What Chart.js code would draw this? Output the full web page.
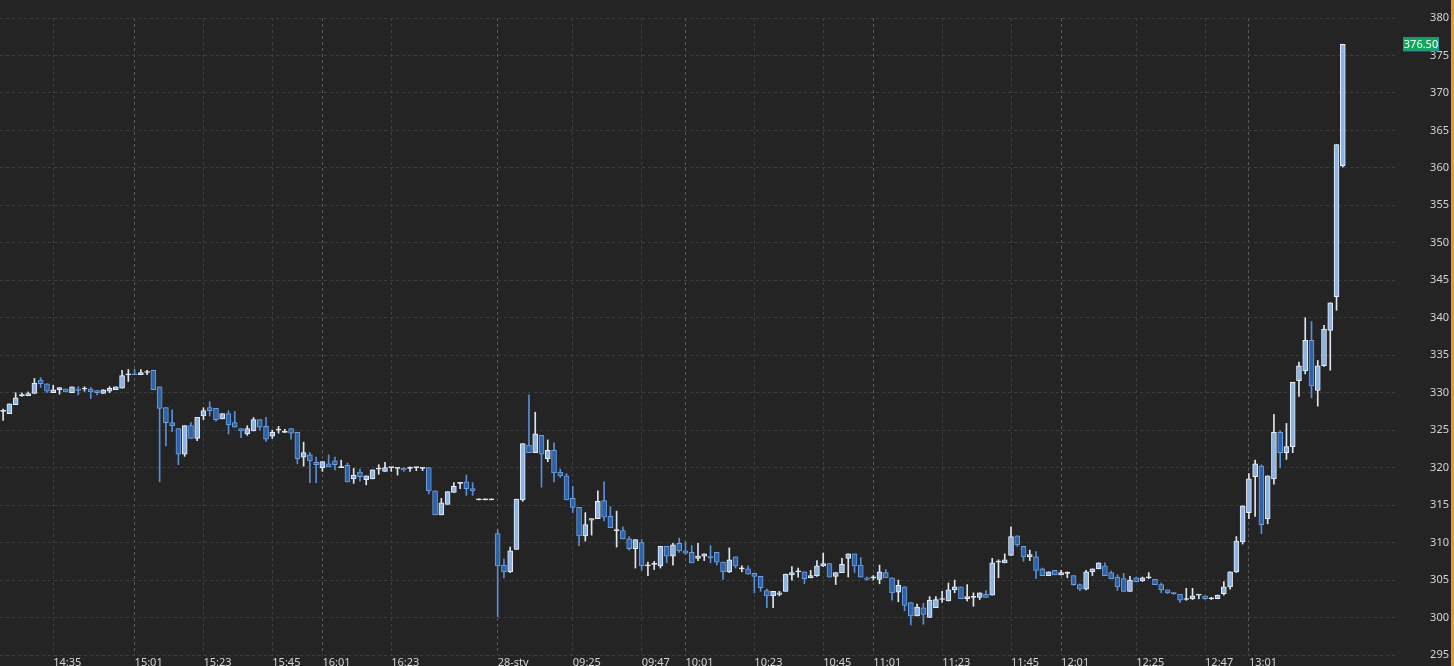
<!DOCTYPE html>
<html>
<head>
<meta charset="utf-8">
<script src="https://cdn.jsdelivr.net/npm/chart.js@4"></script>
<style>
  html, body { margin: 0; background: #242424; overflow: hidden; }
  #wrap { width: 1454px; height: 666px; position: relative; }
</style>
</head>
<body>
<div id="wrap"><canvas id="chart"></canvas></div>
<script>
// 2-minute candles
const open = [
  327.5,327.2,328.4,329.6,329.6,329.9,331.7,331.2,330.0,330.4,330.5,330.0,330.5,330.5,330.5,330.3,329.9,330.2,330.4,330.6,
  332.4,332.5,332.4,332.7,333.0,330.8,328.0,326.0,325.2,321.8,325.6,323.9,326.9,328.0,327.9,326.5,327.2,326.0,325.2,324.5,
  324.9,326.4,325.5,324.2,325.0,324.7,325.2,324.7,321.4,321.7,320.7,320.0,320.5,320.9,320.0,320.3,318.5,319.4,318.4,318.5,
  319.8,319.5,320.0,319.9,319.9,319.9,320.0,319.9,320.0,316.9,313.7,315.1,316.7,317.9,318.1,317.2,315.7,315.7,315.7,311.2,
  307.0,306.1,309.1,315.7,323.0,322.0,324.3,321.2,322.3,319.4,318.9,315.9,314.7,310.9,313.0,313.2,315.6,313.5,311.6,311.6,
  310.5,309.2,310.0,306.9,307.1,306.9,309.5,308.2,309.9,308.9,308.7,307.9,308.2,308.1,308.7,307.4,306.1,308.1,306.5,306.5,
  305.9,305.5,303.6,302.9,303.1,303.5,305.7,306.1,306.1,305.3,305.6,306.9,307.2,305.5,306.0,307.9,308.5,307.0,305.3,305.3,
  305.1,306.0,305.3,303.4,304.1,302.0,300.2,301.3,300.0,301.3,302.4,302.2,303.7,304.1,302.5,302.7,302.7,303.1,303.0,307.4,
  307.3,308.3,310.9,309.5,308.1,308.1,306.5,305.6,306.3,305.7,305.9,305.6,304.4,303.8,306.1,306.5,306.9,306.0,305.4,305.2,
  303.5,305.3,304.9,305.3,305.1,304.4,303.7,303.3,303.1,302.4,302.5,303.0,302.9,302.5,302.5,303.2,304.1,306.1,310.1,314.0,
  318.8,320.2,313.2,318.5,324.7,322.0,322.8,331.6,332.9,337.0,330.3,333.6,338.3,342.8,360.3
];
const high = [
  327.8,328.5,330.0,330.0,330.1,331.9,332.0,331.2,331.0,330.7,330.5,330.8,330.8,330.8,330.7,330.3,330.4,330.8,330.8,333.0,
  333.1,333.1,333.1,333.0,333.0,330.8,328.0,327.7,325.2,325.6,326.0,326.7,328.0,328.8,327.9,327.2,327.6,327.5,325.2,325.6,
  326.7,326.4,326.7,325.0,325.5,325.1,325.2,324.7,323.4,322.0,321.4,320.8,321.7,321.4,321.0,320.6,319.9,319.8,318.9,319.7,
  320.4,320.7,320.0,319.9,320.0,320.1,320.0,320.0,320.0,316.9,315.9,316.8,318.0,318.0,319.0,318.0,315.7,315.7,315.7,311.7,
  307.8,309.4,315.8,323.2,329.7,327.4,324.3,323.7,323.3,319.8,319.2,317.5,314.7,314.0,313.2,316.9,318.1,314.8,314.2,312.1,
  310.8,310.4,310.4,307.4,307.5,309.5,309.5,309.9,310.6,310.1,309.6,309.9,308.5,309.6,308.7,307.4,309.3,308.1,306.9,306.9,
  305.9,305.5,303.8,303.5,303.5,305.8,306.8,306.6,306.1,306.3,307.6,308.6,307.2,306.0,307.9,308.5,308.5,308.0,305.4,305.6,
  307.0,306.4,305.3,305.0,304.1,302.0,301.8,301.9,302.8,302.8,303.5,304.6,305.0,304.1,304.4,303.3,303.3,303.6,307.9,307.7,
  308.5,312.1,310.9,309.5,309.0,308.8,306.6,306.1,306.3,306.3,306.1,305.6,304.5,306.3,306.5,307.3,307.3,306.2,305.7,305.9,
  305.5,305.4,305.4,306.0,305.1,304.6,303.7,303.3,303.1,303.9,303.9,303.0,302.9,302.7,303.0,304.8,306.1,310.8,314.9,319.2,
  321.0,320.4,318.9,327.1,324.9,325.9,331.4,334.1,340.0,339.5,334.3,339.0,342.0,363.1,376.5
];
const low = [
  326.3,327.2,328.4,329.5,329.6,329.9,330.7,330.0,330.0,329.8,330.1,330.0,329.7,330.2,329.2,329.7,329.9,330.0,330.4,330.6,
  331.5,332.4,332.4,332.4,330.4,318.1,322.9,324.8,320.4,321.5,323.9,323.6,326.4,326.9,326.2,326.5,324.5,325.4,324.0,324.3,
  324.9,325.0,323.5,323.9,324.6,324.7,323.8,320.5,320.2,318.0,318.0,319.5,320.1,319.7,320.0,318.1,317.9,318.2,317.7,318.5,
  319.1,319.5,319.5,319.0,319.5,319.5,319.6,319.6,316.5,313.7,313.7,315.1,316.7,317.2,316.3,316.3,315.7,315.7,315.7,300.1,
  305.3,306.0,309.1,315.5,322.0,322.0,317.4,320.8,318.1,318.7,315.7,314.0,309.6,310.2,311.0,313.2,312.9,312.0,309.4,310.5,
  309.0,306.6,306.3,305.6,306.4,306.6,307.3,307.0,308.7,308.4,307.3,307.6,307.6,307.3,307.0,305.1,306.0,306.6,306.1,305.8,
  303.3,303.5,301.3,301.3,302.9,303.5,305.0,305.4,304.5,305.3,305.5,306.8,305.4,304.4,306.0,305.4,306.0,305.4,305.0,305.0,
  304.5,305.3,302.3,302.1,300.9,299.0,300.2,299.1,300.0,301.3,302.0,302.2,303.3,302.5,302.2,301.5,302.4,302.7,303.0,305.3,
  307.3,308.3,309.5,307.5,307.6,305.2,305.6,305.6,305.7,305.7,305.3,304.3,303.6,303.7,305.6,306.5,305.6,305.2,303.6,303.5,
  303.5,304.8,304.8,305.2,304.4,303.3,303.2,303.1,302.0,302.3,302.4,302.5,302.4,302.4,302.5,303.0,303.8,306.0,309.8,313.2,
  313.5,311.2,312.5,317.8,320.0,321.1,322.0,329.5,332.5,329.3,328.2,333.5,333.0,341.0,360.1
];
const close = [
  327.5,328.5,329.3,329.6,329.9,331.3,331.2,330.2,330.4,330.7,330.1,330.8,330.3,330.5,330.1,330.0,330.4,330.6,330.8,332.3,
  332.4,332.4,332.7,332.7,330.4,327.9,326.0,325.6,321.8,325.6,323.9,326.7,327.6,327.6,326.4,327.2,325.7,325.4,324.9,325.2,
  326.4,325.4,323.8,324.7,325.0,324.7,324.6,321.2,322.0,320.9,320.4,320.8,320.1,320.4,320.0,318.1,319.0,318.8,318.9,319.7,
  319.8,320.0,320.0,319.9,319.7,319.9,320.0,319.9,316.9,313.7,315.3,316.8,317.5,317.9,317.2,316.9,315.7,315.7,315.7,306.9,
  306.1,308.9,315.8,323.2,322.0,324.5,321.8,322.3,319.3,318.9,315.7,314.7,310.9,312.4,313.2,315.5,313.4,312.0,311.6,310.5,
  309.2,310.4,306.9,306.9,307.1,309.5,308.2,309.7,308.9,308.6,307.3,308.2,308.5,308.0,307.4,306.1,307.7,306.9,306.5,305.8,
  305.5,304.0,302.9,303.5,303.3,305.8,306.0,306.1,305.2,305.6,306.9,307.2,305.4,306.0,307.1,308.5,306.9,305.4,305.1,305.3,
  306.1,305.3,303.3,304.3,301.6,300.2,301.4,300.4,302.3,302.4,302.4,303.7,304.1,302.5,302.8,302.7,303.3,302.7,307.3,307.4,
  307.7,310.8,309.7,308.1,308.4,306.3,305.6,306.1,305.7,306.0,305.9,304.4,303.8,306.1,306.5,307.3,305.6,305.2,304.1,303.5,
  305.0,304.8,305.3,305.3,304.4,303.7,303.3,303.2,302.3,302.5,302.9,303.0,302.5,302.5,303.0,304.1,306.1,310.2,314.9,318.5,
  320.5,312.4,318.9,324.7,322.0,322.8,331.4,333.6,337.0,330.9,333.6,338.5,342.0,363.1,376.5
];

// x axis: candle index -> label
const tickIdx  = [8, 21, 32, 43, 51, 62, 79, 91, 102, 109, 120, 131, 139, 150, 161, 169, 181, 192, 199];
const tickText = ['14:35','15:01','15:23','15:45','16:01','16:23','28-sty','09:25','09:47','10:01','10:23','10:45','11:01','11:23','11:45','12:01','12:25','12:47','13:01'];
const lastPrice = 376.50;
const SLOTS = 223;

const labels = Array.from({ length: SLOTS }, (_, i) => i);
const isUp = i => close[i] >= open[i];
const isDoji = i => Math.abs(close[i] - open[i]) < 0.15;

const bodies = open.map((o, i) => [Math.min(o, close[i]), Math.max(o, close[i])]);
const wicks = open.map((o, i) => [low[i], high[i]]);

const bgPlugin = {
  id: 'bg',
  beforeDraw(chart) {
    const { ctx } = chart;
    ctx.save();
    ctx.fillStyle = '#242424';
    ctx.fillRect(0, 0, chart.width, chart.height);
    ctx.restore();
  },
  afterDraw(chart) {
    const { ctx } = chart;
    const y = chart.scales.y.getPixelForValue(lastPrice);
    ctx.save();
    ctx.fillStyle = '#12a85a';
    ctx.fillRect(1403, y - 7, 36, 14);
    ctx.strokeStyle = '#2a8aa0';
    ctx.strokeRect(1403.5, y - 6.5, 35, 13);
    ctx.fillStyle = '#ffffff';
    ctx.font = '11px "Noto Sans"';
    ctx.textAlign = 'center';
    ctx.textBaseline = 'middle';
    ctx.fillText(lastPrice.toFixed(2), 1421, y + 0.5);
    ctx.fillStyle = '#e89a3c';
    ctx.fillRect(1451, 0, 3, chart.height);
    ctx.restore();
  }
};

new Chart(document.getElementById('chart'), {
  type: 'bar',
  data: {
    labels,
    datasets: [
      {
        data: wicks,
        order: 2,
        barThickness: 1,
        minBarLength: 1,
        backgroundColor: c => isUp(c.dataIndex) ? '#dfe5ee' : '#5a8fd8',
        borderWidth: 0,
      },
      {
        data: bodies,
        order: 1,
        barThickness: 5,
        minBarLength: 1,
        backgroundColor: c => isDoji(c.dataIndex) ? (isUp(c.dataIndex) ? '#e6ecf5' : '#6f9fe0') : (isUp(c.dataIndex) ? '#8db3e2' : '#2d62a6'),
        borderColor: c => isUp(c.dataIndex) ? '#e8eef8' : '#6f9fe0',
        borderWidth: 1,
        borderSkipped: false,
      },
    ],
  },
  options: {
    responsive: true,
    maintainAspectRatio: false,
    animation: false,
    layout: { padding: { top: 18, left: 0, right: 5, bottom: 0 } },
    plugins: { legend: { display: false }, tooltip: { enabled: false } },
    datasets: { bar: { grouped: false } },
    scales: {
      x: {
        offset: true,
        afterFit: s => { s.height = 11; },
        grid: {
          offset: false,
          drawTicks: false,
          color: c => {
            const k = tickIdx.indexOf(c.index);
            if (k < 0) return 'transparent';
            return /:01|sty/.test(tickText[k]) ? '#5a5a5a' : '#3e3e3e';
          },
        },
        border: { display: false, dash: [3, 3] },
        ticks: {
          autoSkip: false,
          maxRotation: 0,
          minRotation: 0,
          align: 'start',
          padding: 1,
          color: '#d4d4d4',
          font: { family: 'Noto Sans', size: 11 },
          callback: (v, i) => {
            const k = tickIdx.indexOf(i);
            return k < 0 ? '' : tickText[k];
          },
        },
      },
      y: {
        position: 'right',
        min: 295,
        max: 380,
        afterFit: s => { s.width = 53; },
        grid: { color: '#3e3e3e', drawTicks: false },
        border: { display: false, dash: [3, 3] },
        ticks: {
          stepSize: 5,
          crossAlign: 'far',
          padding: 4,
          color: '#d4d4d4',
          font: { family: 'Noto Sans', size: 11 },
        },
      },
    },
  },
  plugins: [bgPlugin],
});
</script>
</body>
</html>
